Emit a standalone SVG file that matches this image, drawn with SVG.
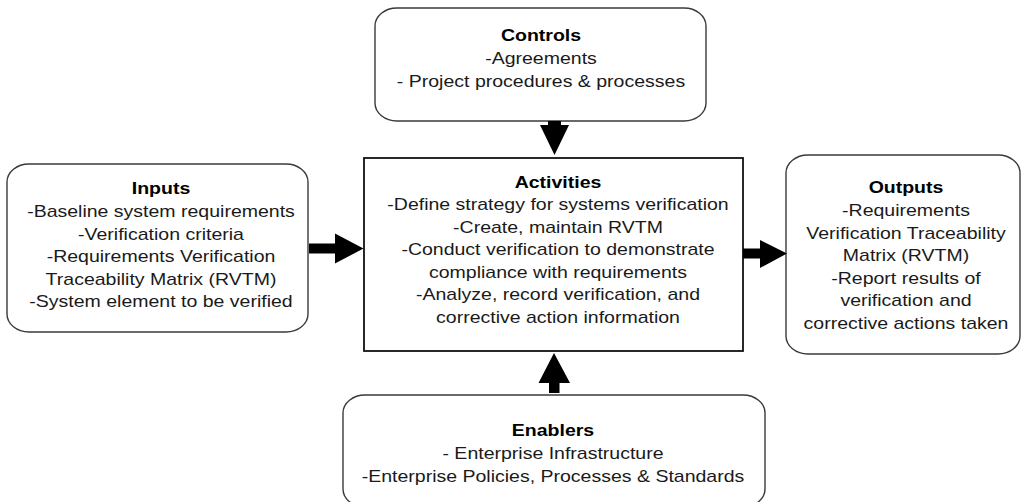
<svg xmlns="http://www.w3.org/2000/svg" width="1024" height="502" viewBox="0 0 1024 502">
<style>
.box{fill:#fff;stroke:#3a3a3a;stroke-width:1.4}
.act{fill:#fff;stroke:#111;stroke-width:1.8}
.t{font-family:"Liberation Sans",Arial,sans-serif;font-size:16px;fill:#1a1a1a;text-anchor:middle}
.h{font-weight:bold;fill:#000}
.arr{fill:#000}
</style>
<rect width="1024" height="502" fill="#fff"/>
<g id="controls">
<rect class="box" x="375" y="8" width="331" height="113" rx="22" ry="18"/>
<g transform="translate(541,0) scale(1.22,1)">
<text class="t h" x="0" y="41">Controls</text>
<text class="t" x="0" y="64">-Agreements</text>
<text class="t" x="0" y="87">- Project procedures &amp; processes</text>
</g>
</g>
<g id="inputs">
<rect class="box" x="7" y="164" width="301" height="168" rx="22" ry="18"/>
<g transform="translate(161,0) scale(1.22,1)">
<text class="t h" x="0" y="194">Inputs</text>
<text class="t" x="0" y="217">-Baseline system requirements</text>
<text class="t" x="0" y="240">-Verification criteria</text>
<text class="t" x="0" y="262.5">-Requirements Verification</text>
<text class="t" x="0" y="285">Traceability Matrix (RVTM)</text>
<text class="t" x="0" y="307.5">-System element to be verified</text>
</g>
</g>
<g id="activities">
<rect class="act" x="364" y="158" width="379" height="193"/>
<g transform="translate(558,0) scale(1.22,1)">
<text class="t h" x="0" y="188">Activities</text>
<text class="t" x="0" y="210.5">-Define strategy for systems verification</text>
<text class="t" x="0" y="233">-Create, maintain RVTM</text>
<text class="t" x="0" y="255.5">-Conduct verification to demonstrate</text>
<text class="t" x="0" y="278">compliance with requirements</text>
<text class="t" x="0" y="300.5">-Analyze, record verification, and</text>
<text class="t" x="0" y="323">corrective action information</text>
</g>
</g>
<g id="outputs">
<rect class="box" x="786" y="155" width="234" height="199" rx="22" ry="18"/>
<g transform="translate(906,0) scale(1.22,1)">
<text class="t h" x="0" y="193">Outputs</text>
<text class="t" x="0" y="216">-Requirements</text>
<text class="t" x="0" y="239">Verification Traceability</text>
<text class="t" x="0" y="261.5">Matrix (RVTM)</text>
<text class="t" x="0" y="284">-Report results of</text>
<text class="t" x="0" y="306.5">verification and</text>
<text class="t" x="0" y="329">corrective actions taken</text>
</g>
</g>
<g id="enablers">
<rect class="box" x="343" y="395" width="422" height="112" rx="22" ry="18"/>
<g transform="translate(553,0) scale(1.22,1)">
<text class="t h" x="0" y="436">Enablers</text>
<text class="t" x="0" y="459">- Enterprise Infrastructure</text>
<text class="t" x="0" y="482">-Enterprise Policies, Processes &amp; Standards</text>
</g>
</g>
<g id="connectors">
<polygon class="arr" points="548,121 561,121 561,125 569,125 554.5,155 540,125 548,125"/>
<polygon class="arr" points="549,393 559.5,393 559.5,383 570,383 554,353 538.5,383 549,383"/>
<polygon class="arr" points="309,243.5 335,243.5 335,233.5 363.5,248.5 335,263.5 335,253.5 309,253.5"/>
<polygon class="arr" points="743,248.5 760,248.5 760,240 787,253.5 760,268 760,258.5 743,258.5"/>
</g>
</svg>
